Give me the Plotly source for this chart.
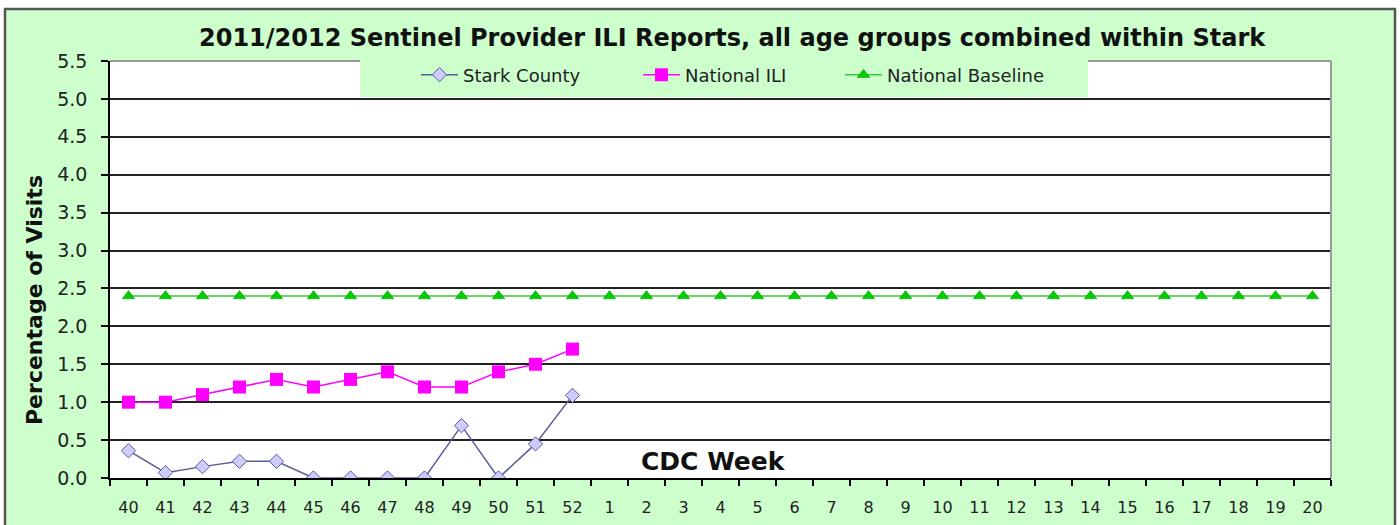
import plotly.graph_objects as go

weeks = ["40", "41", "42", "43", "44", "45", "46", "47", "48", "49", "50", "51", "52",
         "1", "2", "3", "4", "5", "6", "7", "8", "9", "10", "11", "12", "13", "14",
         "15", "16", "17", "18", "19", "20"]
stark_weeks = weeks[:13]
stark_county = [0.36, 0.07, 0.15, 0.22, 0.22, 0.0, 0.0, 0.0, 0.0, 0.69, 0.0, 0.45, 1.09]
national_ili = [1.0, 1.0, 1.1, 1.2, 1.3, 1.2, 1.3, 1.4, 1.2, 1.2, 1.4, 1.5, 1.7]
national_baseline = [2.4] * len(weeks)

W, H = 1400, 525
L, R, T, B = 110, 1331, 61, 478
PW, PH = R - L, B - T


def px(x):
    return (x - L) / PW


def py(y):
    return (B - y) / PH


LEG_FONT = dict(family="DejaVu Sans", size=18, color="#222")

fig = go.Figure()
fig.add_trace(go.Scatter(
    x=stark_weeks, y=stark_county, name="Stark County", mode="lines+markers",
    line=dict(color="#5C5C99", width=1.5),
    marker=dict(symbol="diamond", size=11, color="#CCCCFF",
                line=dict(color="#5C5C99", width=1)),
    legend="legend",
))
fig.add_trace(go.Scatter(
    x=stark_weeks, y=national_ili, name="National ILI", mode="lines+markers",
    line=dict(color="#FF00FF", width=1.5),
    marker=dict(symbol="square", size=13, color="#FF00FF",
                line=dict(color="#FF00FF", width=0)),
    legend="legend2",
))
fig.add_trace(go.Scatter(
    x=weeks, y=national_baseline, name="National Baseline", mode="lines+markers",
    line=dict(color="#33CC33", width=1.5),
    marker=dict(symbol="triangle-up", size=11, color="#00CC00",
                line=dict(color="#009900", width=0.5)),
    legend="legend3",
))


def leg(xpos):
    return dict(orientation="h", x=px(xpos), xanchor="left", y=py(75), yanchor="middle",
                bgcolor="rgba(0,0,0,0)", borderwidth=0, font=LEG_FONT, itemwidth=37)


fig.update_layout(
    width=W, height=H,
    margin=dict(l=L, r=W - R, t=T, b=H - B, pad=0, autoexpand=False),
    paper_bgcolor="white",
    plot_bgcolor="white",
    showlegend=True,
    legend=leg(416),
    legend2=leg(638),
    legend3=leg(840),
    xaxis=dict(
        type="category", categoryorder="array", categoryarray=weeks,
        range=[-0.5, len(weeks) - 0.5], automargin=False,
        showgrid=False, zeroline=False,
        showline=True, linecolor="black", linewidth=1.5,
        ticks="outside", tickson="boundaries", ticklen=6, tickcolor="black", tickwidth=1.5,
        tickfont=dict(family="DejaVu Sans", size=16, color="#222"),
        ticklabelstandoff=14,
    ),
    yaxis=dict(
        range=[0, 5.5], dtick=0.5, tick0=0, tickformat=".1f", automargin=False,
        showgrid=True, gridcolor="#222", gridwidth=1.5, zeroline=False,
        showline=True, linecolor="black", linewidth=1.5,
        ticks="outside", ticklen=7, tickcolor="black", tickwidth=1.5,
        tickfont=dict(family="DejaVu Sans", size=19, color="#222"),
        ticklabelstandoff=10,
    ),
    shapes=[
        dict(type="rect", xref="paper", yref="paper", layer="below",
             x0=px(5), x1=px(1395), y0=py(560), y1=py(9),
             fillcolor="#CCFFCC", line=dict(color="#555555", width=2.5)),
        dict(type="rect", xref="paper", yref="paper", layer="below",
             x0=0, x1=1, y0=0, y1=1, fillcolor="white", line=dict(width=0)),
        dict(type="line", xref="paper", yref="paper", layer="above",
             x0=0, x1=1, y0=1, y1=1, line=dict(color="#9A9A9A", width=2)),
        dict(type="line", xref="paper", yref="paper", layer="above",
             x0=1, x1=1, y0=0, y1=1, line=dict(color="#9A9A9A", width=2)),
        dict(type="rect", xref="paper", yref="paper", layer="above",
             x0=px(360), x1=px(1088), y0=py(97), y1=py(60),
             fillcolor="#CCFFCC", line=dict(width=0)),
    ],
    annotations=[
        dict(text="<b>2011/2012 Sentinel Provider ILI Reports, all age groups combined within Stark</b>",
             xref="paper", yref="paper", x=px(732), y=py(38), xanchor="center", yanchor="middle",
             showarrow=False, font=dict(family="DejaVu Sans", size=24, color="#111")),
        dict(text="<b>Percentage of Visits</b>", textangle=-90,
             xref="paper", yref="paper", x=px(34), y=py(300), xanchor="center", yanchor="middle",
             showarrow=False, font=dict(family="DejaVu Sans", size=22, color="#111")),
        dict(text="<b>CDC Week</b>",
             xref="paper", yref="paper", x=px(713), y=py(461), xanchor="center", yanchor="middle",
             showarrow=False, font=dict(family="DejaVu Sans", size=25, color="#111")),
    ],
)

fig.write_html("out.html", config={"displayModeBar": False},
               post_script="document.body.style.margin='0px';")
